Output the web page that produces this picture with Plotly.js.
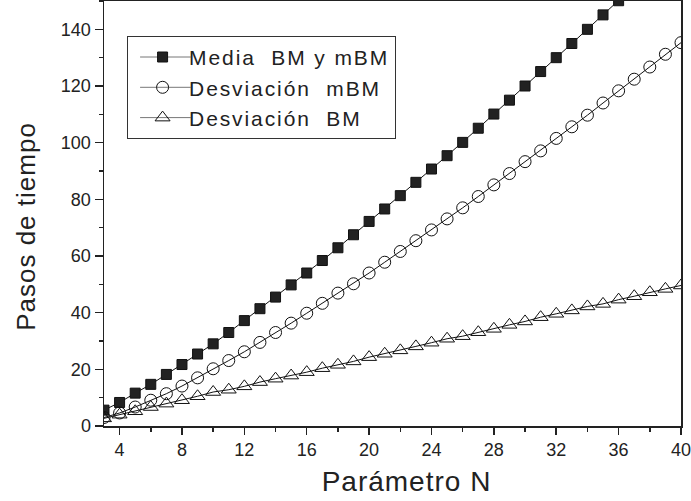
<!DOCTYPE html>
<html>
<head>
<meta charset="utf-8">
<script src="https://cdn.plot.ly/plotly-3.0.1.min.js"></script>
<style>
html,body{margin:0;padding:0;background:#fff;}
#chart{width:691px;height:501px;}
.legendtext{letter-spacing:1.9px;}
.g-xtitle text, .g-ytitle text, .xtitle, .ytitle{letter-spacing:1px;}
#chart .legend .legendlines path{stroke:#777 !important; transform:translate(7px,0);}
#chart .legend .legendpoints{transform:translate(4px,0);}
#chart .g-xtitle{transform:translate(14px,0);}
#chart .g-ytitle{transform:translate(-6px,13px);}
</style>
</head>
<body>
<div id="chart"></div>
<script>
var N = [3,4,5,6,7,8,9,10,11,12,13,14,15,16,17,18,19,20,21,22,23,24,25,26,27,28,29,30,31,32,33,34,35,36,37,38,39,40];
var mediaBMmBM = [5.6,8.3,11.6,14.7,18.2,21.7,25.4,29.0,33.0,37.2,41.4,45.5,49.8,54.0,58.4,62.9,67.5,72.2,76.6,81.3,86.0,90.7,95.4,100.1,105.1,110.1,115.0,120.0,125.1,130.0,135.0,140.0,145.1,150.1,155.2,160.3,165.4,170.5];
var desvMBM = [3.0,4.6,6.7,9.1,11.4,14.1,17.0,20.2,23.1,26.2,29.5,33.0,36.3,39.8,43.3,46.9,50.2,54.0,57.8,61.6,65.4,69.2,73.1,77.0,81.0,85.1,89.1,93.3,97.1,101.5,105.6,109.7,114.0,118.3,122.4,126.7,131.2,135.3];
var desvBM = [2.7,4.0,5.2,6.7,7.9,9.1,10.5,12.0,12.8,14.0,15.5,16.7,17.8,19.0,20.4,21.6,22.8,24.3,25.5,26.7,28.1,29.4,30.8,31.7,33.1,34.3,35.7,36.9,38.4,39.6,40.8,42.2,43.1,44.6,45.8,47.2,48.4,49.6];
var names = ['Media\u00A0\u00A0BM y mBM', 'Desviación\u00A0\u00A0mBM', 'Desviación\u00A0\u00A0BM'];
var xTitle = 'Parámetro N';
var yTitle = 'Pasos de tiempo';

var font = 'Arial';
var traces = [
  {x: N, y: mediaBMmBM, name: names[0], mode: 'lines+markers', type: 'scatter',
   line: {color: '#111', width: 1},
   marker: {symbol: 'square', size: 10, color: '#222', line: {color: '#111', width: 1}}},
  {x: N, y: desvMBM, name: names[1], mode: 'lines+markers', type: 'scatter',
   line: {color: '#111', width: 1},
   marker: {symbol: 'circle-open', size: 12, color: '#111', line: {color: '#111', width: 1}}},
  {x: N, y: desvBM, name: names[2], mode: 'lines+markers', type: 'scatter',
   line: {color: '#111', width: 1},
   marker: {symbol: 'triangle-up-open', size: 13, color: '#111', line: {color: '#111', width: 1}}}
];

var layout = {
  width: 691, height: 501,
  margin: {l: 104, r: 10, t: 1, b: 75},
  paper_bgcolor: '#fff', plot_bgcolor: '#fff',
  font: {family: font, color: '#222'},
  showlegend: true,
  legend: {x: 0.04, y: 0.918, xanchor: 'left', yanchor: 'top', itemwidth: 51,
    bgcolor: '#fff', bordercolor: '#333', borderwidth: 1,
    font: {family: font, size: 21, color: '#222'}, tracegroupgap: 0},
  xaxis: {
    range: [3, 40], tick0: 0, dtick: 4, ticks: 'outside', ticklen: 7, tickwidth: 1.5, tickcolor: '#222',
    showline: true, linecolor: '#222', linewidth: 1.5, mirror: true, showgrid: false, zeroline: false,
    tickfont: {family: font, size: 18, color: '#222'}, ticklabeloverflow: 'allow',
    minor: {dtick: 2, ticks: 'outside', ticklen: 4, tickwidth: 1.5, tickcolor: '#222', showgrid: false},
    title: {text: xTitle, font: {family: font, size: 28, color: '#222'}, standoff: 12}
  },
  yaxis: {
    range: [0, 150], tick0: 0, dtick: 20, ticks: 'outside', ticklen: 8, tickwidth: 1.5, tickcolor: '#222',
    showline: true, linecolor: '#222', linewidth: 1.5, mirror: true, showgrid: false, zeroline: false,
    tickfont: {family: font, size: 18, color: '#222'},
    minor: {dtick: 10, ticks: 'outside', ticklen: 4, tickwidth: 1.5, tickcolor: '#222', showgrid: false},
    title: {text: yTitle, font: {family: font, size: 26, color: '#222'}, standoff: 12}
  }
};
Plotly.newPlot('chart', traces, layout, {displayModeBar: false, staticPlot: true});
</script>
</body>
</html>
